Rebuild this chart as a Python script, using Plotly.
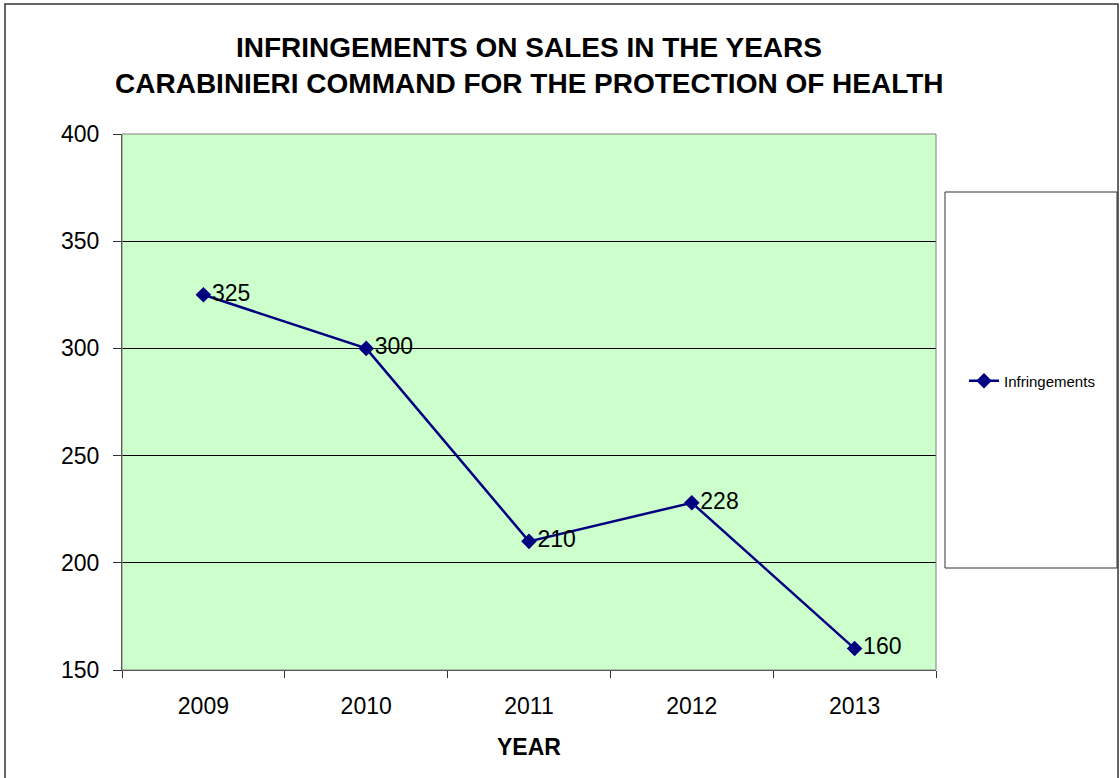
import plotly.graph_objects as go

years = ["2009", "2010", "2011", "2012", "2013"]
infringements = [325, 300, 210, 228, 160]
series_name = "Infringements"
title_lines = ["INFRINGEMENTS ON SALES IN THE YEARS", "CARABINIERI COMMAND FOR THE PROTECTION OF HEALTH"]
y_ticks = [150, 200, 250, 300, 350, 400]
x_title = "YEAR"

W, H = 1120, 778
L, R, T, B = 122, 184, 134, 108
FONT = "Liberation Sans, Arial, sans-serif"

fig = go.Figure()
fig.add_trace(go.Scatter(
    x=years, y=infringements, name=series_name,
    mode="lines+markers+text",
    line=dict(color="#000080", width=2.5),
    marker=dict(symbol="diamond", size=12, color="#000080"),
    text=[str(v) for v in infringements],
    textposition="middle right",
    textfont=dict(family=FONT, size=23, color="black"),
    showlegend=True,
))

pw = W - L - R
ph = H - T - B
def px_x(p):
    return (p - L) / pw
def px_y(p):
    return 1 - (p - T) / ph

shapes = [
    dict(type="rect", xref="paper", yref="paper", x0=px_x(5), x1=px_x(1118), y0=px_y(790), y1=px_y(4),
         line=dict(color="#333333", width=1.5), fillcolor="rgba(0,0,0,0)", layer="below"),
    dict(type="rect", xref="paper", yref="paper", x0=px_x(945), x1=px_x(1117), y0=px_y(568), y1=px_y(192),
         line=dict(color="#333333", width=1), fillcolor="white", layer="below"),
    dict(type="rect", xref="paper", yref="paper", x0=0, x1=1, y0=0, y1=1,
         line=dict(color="#808080", width=1), fillcolor="rgba(0,0,0,0)", layer="above"),
]

annotations = [
    dict(text=title_lines[0], xref="paper", yref="paper", x=0.5, y=px_y(47), xanchor="center", yanchor="middle",
         showarrow=False, font=dict(family=FONT, size=28, color="black", weight="bold")),
    dict(text=title_lines[1], xref="paper", yref="paper", x=0.5, y=px_y(84), xanchor="center", yanchor="middle",
         showarrow=False, font=dict(family=FONT, size=28, color="black", weight="bold")),
    dict(text=x_title, xref="paper", yref="paper", x=px_x(529), y=px_y(747), xanchor="center", yanchor="middle",
         showarrow=False, font=dict(family=FONT, size=23, color="black", weight="bold")),
]

fig.update_layout(
    width=W, height=H,
    margin=dict(l=L, r=R, t=T, b=B, autoexpand=False),
    paper_bgcolor="white",
    plot_bgcolor="#CCFFCC",
    font=dict(family=FONT, color="black"),
    xaxis=dict(
        type="category",
        tickson="boundaries",
        ticks="outside", ticklen=7, tickcolor="#333333",
        showgrid=False,
        showline=True, linecolor="#333333", linewidth=1,
        tickfont=dict(size=23),
        ticklabelstandoff=15,
        range=[-0.5, 4.5],
    ),
    yaxis=dict(
        range=[150, 400],
        tickvals=y_ticks,
        ticks="outside", ticklen=8, tickcolor="#333333",
        showgrid=True, gridcolor="black", gridwidth=1,
        showline=True, linecolor="#333333", linewidth=1,
        zeroline=False,
        tickfont=dict(size=23),
        ticklabelstandoff=9,
    ),
    legend=dict(
        x=px_x(964), xanchor="left",
        y=px_y(381), yanchor="middle",
        bgcolor="rgba(0,0,0,0)",
        font=dict(family=FONT, size=15),
    ),
    shapes=shapes,
    annotations=annotations,
)

fig.write_html("out.html", config={"displayModeBar": False},
               post_script="document.body.style.margin='0';document.body.style.padding='0';")
